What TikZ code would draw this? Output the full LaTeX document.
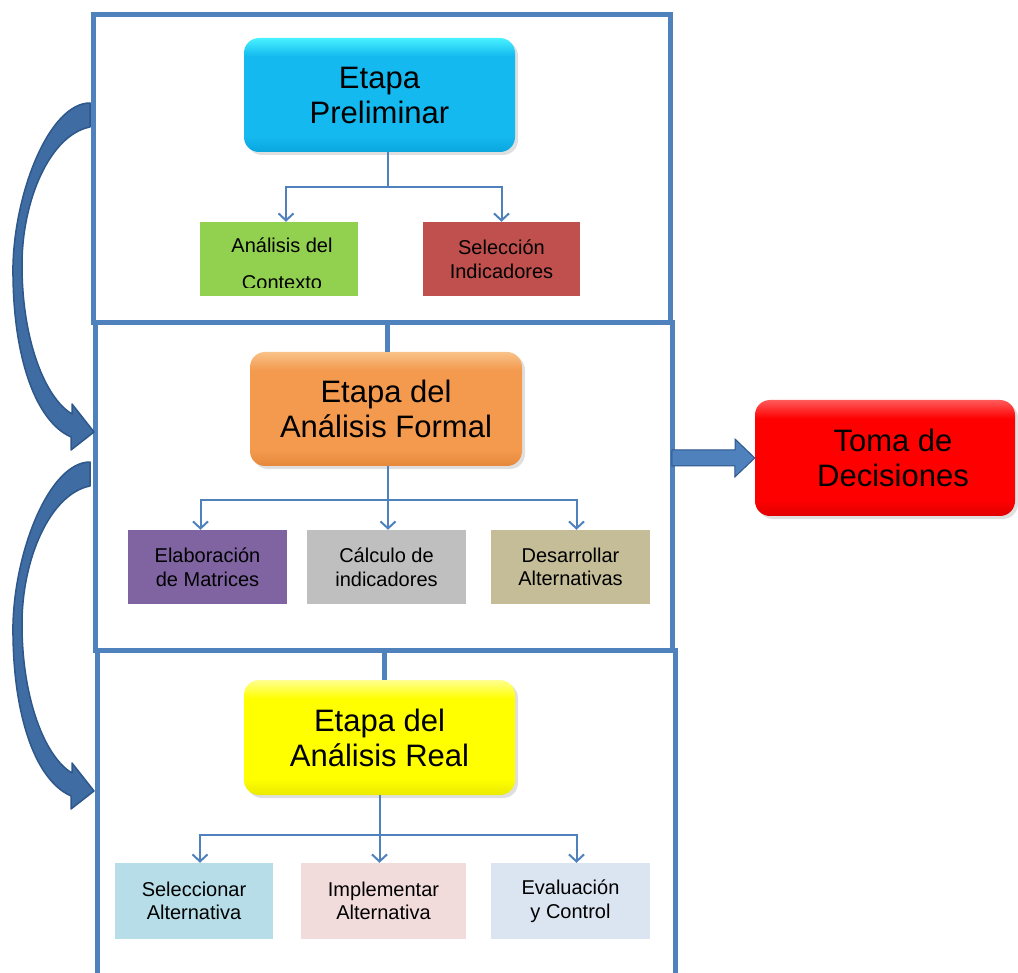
\documentclass[tikz,border=0pt]{standalone}
\usepackage{fontspec}
\setmainfont{Liberation Sans}
\usetikzlibrary{arrows.meta,shadows,calc}
\definecolor{frameblue}{HTML}{4F81BD}
\definecolor{arcfill}{HTML}{3F6CA3}
\definecolor{arcline}{HTML}{2E578A}
\definecolor{ctxgreen}{HTML}{92D050}
\definecolor{selred}{HTML}{C0504D}
\definecolor{matpurple}{HTML}{8064A2}
\definecolor{calcgray}{HTML}{BFBFBF}
\definecolor{destan}{HTML}{C4BD97}
\definecolor{selblue}{HTML}{B7DEE8}
\definecolor{imppink}{HTML}{F2DCDB}
\definecolor{evablue}{HTML}{DBE5F1}
\definecolor{pTop}{HTML}{48F2FF}
\definecolor{pMid}{HTML}{14B9F0}
\definecolor{pBot}{HTML}{0AA6DE}
\definecolor{fTop}{HTML}{F9C288}
\definecolor{fMid}{HTML}{F39A4E}
\definecolor{fBot}{HTML}{E6883A}
\definecolor{rTop}{HTML}{FFFF90}
\definecolor{rMid}{HTML}{FFFF00}
\definecolor{rBot}{HTML}{EAEA00}
\definecolor{tTop}{HTML}{FF5A5A}
\definecolor{tMid}{HTML}{FF0000}
\definecolor{tBot}{HTML}{E00000}
\pgfdeclareverticalshading{prelimshade}{100bp}{color(0bp)=(pBot); color(25bp)=(pBot); color(32bp)=(pMid); color(67bp)=(pMid); color(75bp)=(pTop); color(100bp)=(pTop)}
\pgfdeclareverticalshading{formalshade}{100bp}{color(0bp)=(fBot); color(25bp)=(fBot); color(32bp)=(fMid); color(67bp)=(fMid); color(75bp)=(fTop); color(100bp)=(fTop)}
\pgfdeclareverticalshading{realshade}{100bp}{color(0bp)=(rBot); color(25bp)=(rBot); color(32bp)=(rMid); color(67bp)=(rMid); color(75bp)=(rTop); color(100bp)=(rTop)}
\pgfdeclareverticalshading{tomashade}{100bp}{color(0bp)=(tBot); color(25bp)=(tBot); color(32bp)=(tMid); color(67bp)=(tMid); color(75bp)=(tTop); color(100bp)=(tTop)}
\begin{document}
\begin{tikzpicture}[x=1pt,y=-1pt,
  frameline/.style={draw=frameblue, line width=5pt},
  bigbox/.style={rounded corners=15pt, minimum width=271pt, minimum height=114pt,
    inner sep=0pt, align=center, font=\fontsize{31}{35}\selectfont,
    drop shadow={opacity=0.25,shadow xshift=3pt,shadow yshift=-3pt}},
  smallbox/.style={minimum width=158pt, minimum height=74pt, inner sep=0pt,
    align=center, font=\fontsize{20}{23.5}\selectfont},
  conn/.style={draw=frameblue, line width=2pt, -{Straight Barb[length=7pt,width=15pt]}},
  curvearrow/.style={fill=arcfill, draw=arcline, line width=1.5pt, line join=round},
  blockarrow/.style={fill=frameblue, draw=arcline, line width=1pt, line join=miter}]
\useasboundingbox (0,0) rectangle (1018,973);

% frame
\draw[frameline] (93,15) rectangle (670,323);
\draw[frameline] (95,323) rectangle (672,650);
\draw[frameline] (97,650) rectangle (675,990);
\coordinate (d1) at (0,323);
\coordinate (d2) at (0,650);
\coordinate (fr) at (672,458);

% curved arrows on the left
\foreach \dy in {0,359}{
\begin{scope}[shift={(0,\dy)}]
\filldraw[curvearrow] (90,103) -- (90,127) .. controls (50,135) and (22,200) .. (22,265)
  .. controls (22,340) and (45,398) .. (72,414) -- (72,404) -- (94,432) -- (71,450) -- (71,437)
  .. controls (33,420) and (12,350) .. (13,265) .. controls (15,190) and (50,103) .. (90,103) -- cycle;
\end{scope}}

% big boxes
\node[bigbox, shading=prelimshade] (prelim) at (379.5,95) {Etapa\\Preliminar};
\node[bigbox, minimum width=272pt, shading=formalshade] (formal) at (386,409) {Etapa del\\Análisis Formal};
\node[bigbox, minimum height=115pt, shading=realshade] (real) at (379.5,737.5) {Etapa del\\Análisis Real};
\node[bigbox, minimum width=260pt, minimum height=116pt, shading=tomashade] (toma) at (885,458) {\hspace*{16pt}Toma de\\\hspace*{16pt}Decisiones};

% stubs from dividers
\draw[frameline] ([xshift=1pt]formal.north) -- ([xshift=1pt]formal.north |- d1);
\draw[frameline] ([xshift=5pt]real.north) -- ([xshift=5pt]real.north |- d2);

% small boxes, stage 1
\node[smallbox, fill=ctxgreen] (ctx) at (279,259) {};
\begin{scope}
\clip (ctx.north west) rectangle ([yshift=9pt]ctx.south east);
\node[align=center, font=\fontsize{20}{37}\selectfont, inner sep=0pt] (ctxtext) at (282,264) {Análisis del\\Contexto};
\end{scope}
\node[smallbox, minimum width=157pt, fill=selred] (sel) at (501.5,259) {Selección\\Indicadores};

% small boxes, stage 2
\node[smallbox, minimum width=159pt, fill=matpurple] (mat) at (207.5,567) {Elaboración\\de Matrices};
\node[smallbox, minimum width=159pt, fill=calcgray] (calc) at (386.5,567) {Cálculo de\\indicadores};
\node[smallbox, minimum width=159pt, fill=destan] (des) at (570.5,567) {Desarrollar\\Alternativas};

% small boxes, stage 3
\node[smallbox, minimum height=76pt, fill=selblue] (sela) at (194,901) {Seleccionar\\Alternativa};
\node[smallbox, minimum width=165pt, minimum height=76pt, fill=imppink] (imp) at (383.5,901) {Implementar\\Alternativa};
\node[smallbox, minimum width=159pt, minimum height=76pt, fill=evablue] (eva) at (570.5,901) {Evaluación\\y Control};

% connectors
\draw[conn] ([xshift=8.5pt]prelim.south) -- ++(0,35) -| ([xshift=7pt]ctx.north);
\draw[conn] ([xshift=8.5pt]prelim.south) -- ++(0,35) -| (sel.north);
\draw[conn] ([xshift=2pt]formal.south) -- ++(0,34) -| ([xshift=-7pt]mat.north);
\draw[conn] ([xshift=2pt]formal.south) -- ([xshift=2pt]formal.south |- calc.north);
\draw[conn] ([xshift=2pt]formal.south) -- ++(0,34) -| ([xshift=6pt]des.north);
\draw[conn] (real.south) -- ++(0,40) -| ([xshift=6pt]sela.north);
\draw[conn] (real.south) -- (real.south |- imp.north);
\draw[conn] (real.south) -- ++(0,40) -| ([xshift=6pt]eva.north);

% block arrow to decisions
\filldraw[blockarrow] (fr) ++(0,-8) -- ++(63,0) -- ++(0,-11) -- (toma.west) -- ++(-20,19) -- ++(0,-11) -- ++(-63,0) -- cycle;
\end{tikzpicture}
\end{document}
